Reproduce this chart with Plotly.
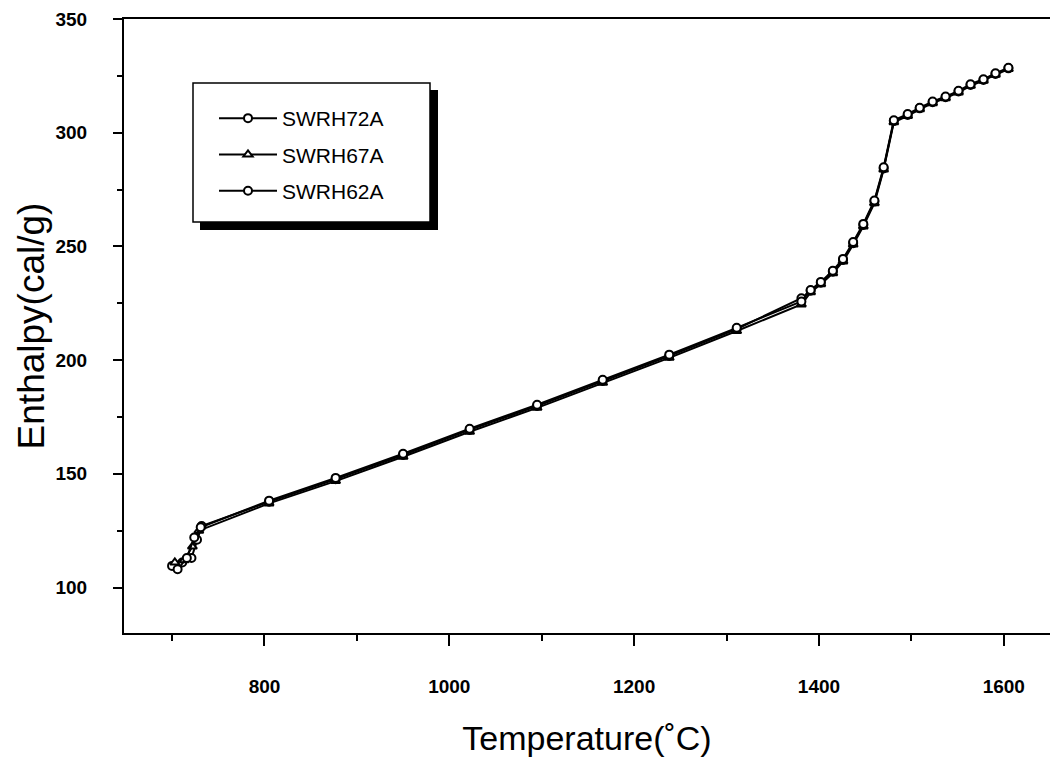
import plotly.graph_objects as go

# ---- data ----
temp_72A = [700, 711, 721, 727, 732, 805, 877, 950, 1022, 1095, 1166, 1238, 1311, 1381,
            1391, 1402, 1415, 1426, 1437, 1448, 1460, 1470, 1481, 1496, 1509, 1523,
            1537, 1551, 1564, 1578, 1591, 1605]
enth_72A = [109.5, 111, 113, 121, 127, 137.7, 147.6, 158.3, 169.3, 179.8, 190.8, 201.8,
            213.7, 227.2, 230.5, 234.0, 238.9, 244.0, 251.4, 259.4, 269.7, 284.3, 305.1,
            307.8, 310.7, 313.4, 315.6, 318.1, 321.0, 323.2, 325.8, 328.3]

temp_67A = [703, 713, 722, 729, 805, 877, 950, 1022, 1095, 1166, 1238, 1311, 1381,
            1391, 1402, 1415, 1426, 1437, 1448, 1460, 1470, 1481, 1496, 1509, 1523,
            1537, 1551, 1564, 1578, 1591, 1605]
enth_67A = [111, 112, 118, 125, 137.0, 146.8, 157.5, 168.5, 179.0, 190.0, 201.0,
            212.8, 224.5, 229.8, 233.4, 238.2, 243.4, 250.8, 258.8, 269.0, 283.8, 304.6,
            307.4, 310.3, 313.0, 315.2, 317.7, 320.6, 322.9, 325.5, 328.0]

temp_62A = [706, 716, 724, 731, 805, 877, 950, 1022, 1095, 1166, 1238, 1311, 1381,
            1391, 1402, 1415, 1426, 1437, 1448, 1460, 1470, 1481, 1496, 1509, 1523,
            1537, 1551, 1564, 1578, 1591, 1605]
enth_62A = [108, 113, 122, 126.5, 138.2, 148.2, 158.8, 169.8, 180.4, 191.4, 202.4,
            214.2, 225.8, 230.8, 234.4, 239.3, 244.5, 251.9, 259.9, 270.2, 284.8, 305.5,
            308.2, 311.0, 313.7, 315.9, 318.4, 321.3, 323.5, 326.1, 328.6]

series_names = ["SWRH72A", "SWRH67A", "SWRH62A"]
series_symbols = ["circle", "triangle-up", "circle"]

x_ticks = [800, 1000, 1200, 1400, 1600]
y_ticks = [100, 150, 200, 250, 300, 350]

FONT = "Arial, Liberation Sans, sans-serif"

fig = go.Figure()
for i, (name, sym, xs, ys) in enumerate(zip(series_names, series_symbols,
                                            [temp_72A, temp_67A, temp_62A],
                                            [enth_72A, enth_67A, enth_62A])):
    fig.add_trace(go.Scatter(
        x=xs, y=ys, name=name + "\u00a0\u00a0\u00a0", mode="lines+markers",
        legendgroup=name,
        line=dict(color="black", width=2),
        marker=dict(symbol=sym, size=8, color="white",
                    line=dict(color="black", width=2)),
    ))

# legend box with drop shadow (paper coords of plot area)
L, R, T, B = 124, 1050, 19, 633
W, H = R - L, B - T
def px(x): return (x - L) / W
def py(y): return (B - y) / H

fig.add_shape(type="rect", xref="paper", yref="paper",
              x0=px(200), x1=px(438), y0=py(230), y1=py(90),
              fillcolor="black", line=dict(width=0), layer="above")
fig.add_shape(type="rect", xref="paper", yref="paper",
              x0=px(193), x1=px(430), y0=py(222), y1=py(83),
              fillcolor="white", line=dict(color="black", width=1.5), layer="above")

fig.update_layout(
    width=1050, height=760,
    margin=dict(l=L, r=0, t=T, b=760 - B),
    paper_bgcolor="white", plot_bgcolor="white",
    font=dict(family=FONT, color="black"),
    showlegend=True,
    legend=dict(x=px(214), y=py(98), xanchor="left", yanchor="top",
                bgcolor="rgba(0,0,0,0)", borderwidth=0,
                font=dict(size=21, family=FONT, color="black"),
                tracegroupgap=6, itemwidth=58),
    xaxis=dict(range=[648, 1650], tickmode="array", tickvals=x_ticks,
               ticks="outside", ticklen=11, tickwidth=2, tickcolor="black",
               minor=dict(dtick=100, tick0=0, ticks="outside", ticklen=6,
                          tickwidth=1.5, tickcolor="black"),
               showline=True, linewidth=2, linecolor="black", mirror=True,
               showgrid=False, zeroline=False,
               tickfont=dict(size=19, family=FONT, weight="bold"),
               ticklabelstandoff=24,
               title=dict(text="Temperature(˚C)", standoff=30,
                          font=dict(size=34, family=FONT))),
    yaxis=dict(range=[80, 350], tickmode="array", tickvals=y_ticks,
               ticks="outside", ticklen=9, tickwidth=2, tickcolor="black",
               minor=dict(dtick=25, tick0=0, ticks="outside", ticklen=5,
                          tickwidth=1.5, tickcolor="black"),
               showline=True, linewidth=2, linecolor="black",
               showgrid=False, zeroline=False,
               tickfont=dict(size=19, family=FONT, weight="bold"),
               ticklabelstandoff=22,
               title=dict(text="Enthalpy(cal/g)", standoff=0,
                          font=dict(size=37, family=FONT))),
)

fig.write_html("out.html")
